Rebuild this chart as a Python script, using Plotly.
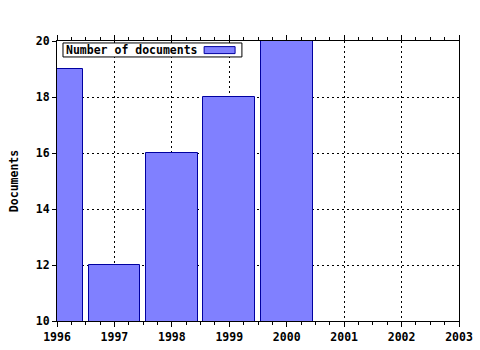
import plotly.graph_objects as go

years = [1996, 1997, 1998, 1999, 2000]
documents = [19, 12, 16, 18, 20]
series_name = "Number of documents"
x_ticks = [1996, 1997, 1998, 1999, 2000, 2001, 2002, 2003]
y_ticks = [10, 12, 14, 16, 18, 20]

FONT = dict(family="DejaVu Sans Mono", size=11.5, color="black", weight="bold")

fig = go.Figure()
fig.add_trace(go.Bar(
    x=years, y=documents, width=0.9, name=series_name,
    marker=dict(color="#8080ff", line=dict(color="#0000a0", width=1)),
    showlegend=False,
))

fig.update_layout(
    width=480, height=350,
    margin=dict(l=57, r=21, t=41, b=29),
    paper_bgcolor="white", plot_bgcolor="white",
    font=FONT,
    bargap=0,
)
fig.update_xaxes(
    range=[1996, 2003], tickvals=x_ticks, ticktext=[str(v) for v in x_ticks],
    showline=True, linecolor="black", linewidth=1, mirror="ticks",
    ticks="outside", ticklen=5, tickcolor="black", tickwidth=1,
    showgrid=True, gridcolor="black", griddash="2px,3px", gridwidth=1,
    minor=dict(dtick=0.25, tick0=1996, ticks="outside", ticklen=3, tickcolor="black", showgrid=False),
    tickfont=FONT, zeroline=False, automargin=False,
)
fig.update_yaxes(
    range=[10, 20], tickvals=y_ticks,
    showline=True, linecolor="black", linewidth=1, mirror=True,
    ticks="outside", ticklen=4, tickcolor="black", tickwidth=1,
    showgrid=True, gridcolor="black", griddash="2px,3px", gridwidth=1,
    tickfont=FONT, zeroline=False, automargin=False,
    title=dict(text="Documents", font=FONT, standoff=14),
)

# legend drawn manually (text left, swatch right, as in the reference)
fig.add_shape(type="rect", xref="paper", yref="paper",
              x0=0.0149, x1=0.460, y0=0.943, y1=0.993,
              line=dict(color="black", width=1), fillcolor="white", layer="above")
fig.add_shape(type="rect", xref="paper", yref="paper",
              x0=0.366, x1=0.443, y0=0.955, y1=0.980,
              line=dict(color="#0000a0", width=1), fillcolor="#8080ff", layer="above")
fig.add_annotation(xref="paper", yref="paper", x=0.0175, y=0.968,
                   xanchor="left", yanchor="middle", text=series_name,
                   showarrow=False, font=FONT)

fig.write_html("out.html")
